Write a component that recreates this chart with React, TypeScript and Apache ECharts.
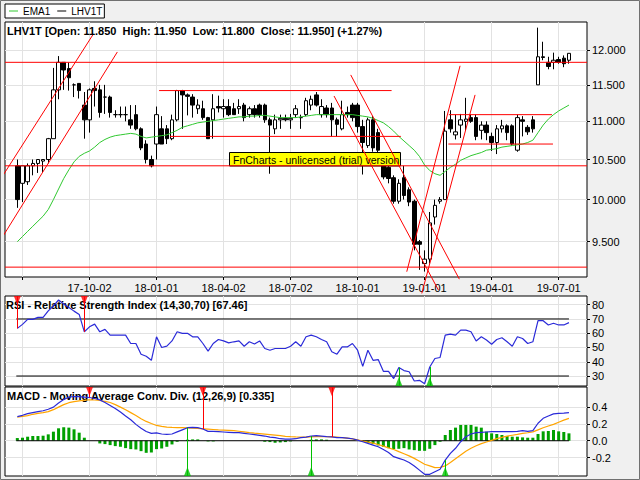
import React, { useEffect, useRef } from "react";
import * as echarts from "echarts";

const FONT = '"Liberation Sans", Arial, Helvetica, sans-serif';

// weekly bars numbered 0..107 (2017-06-26 .. 2019-07-15)
const xTickIdx = [1, 14, 27, 40, 53, 66, 79, 92, 105];
const xLabelIdx = [14, 27, 40, 53, 66, 79, 92, 105];
const xLabels = ["17-10-02", "18-01-01", "18-04-02", "18-07-02", "18-10-01", "19-01-01", "19-04-01", "19-07-01"];
const xMin = -2.39;
const xMax = 110.5;

const priceTicks = [9.5, 10, 10.5, 11, 11.5, 12];
const priceMin = 9.1;
const priceMax = 12.415;
const rsiTicks = [30, 40, 50, 60, 70, 80];
const rsiMin = 23;
const rsiMax = 86.1;
const macdTicks = [-0.2, 0, 0.2, 0.4];
const macdMin = -0.42;
const macdMax = 0.64;

const open = [
  10.42, 10.2, 10.22, 10.42, 10.45, 10.48, 10.5, 10.77, 11.43, 11.82,
  11.73, 11.5, 11.52, 11.22, 11.02, 11.45, 11.43, 11.33, 11.33, 11.09,
  11.09, 11.09, 11.02, 11.09, 10.9, 10.7, 10.5, 10.7, 10.9, 10.9,
  10.77, 11.02, 11.42, 11.36, 11.33, 11.17, 11.17, 11.05, 11.02, 11.2,
  11.17, 11.2, 11.17, 11.17, 11.22, 11.09, 11.17, 11.22, 11.22, 11.02,
  10.9, 11.02, 11.04, 11.02, 11.09, 11.05, 11.09, 11.22, 11.36, 11.09,
  11.18, 11.18, 11.02, 10.9, 11.12, 11.22, 11.22, 10.93, 10.68, 11.02,
  10.85, 10.42, 10.4, 10.27, 9.98, 10.27, 10.12, 9.98, 9.5, 9.25,
  9.3, 9.79, 9.98, 10.0, 11.02, 10.82, 10.95, 11.0, 11.05, 11.05,
  10.88, 10.95, 10.8, 10.72, 10.9, 10.94, 10.94, 10.62, 11.02, 10.92,
  11.02, 11.5, 11.9, 11.82, 11.82, 11.86, 11.88, 11.85,
];
const high = [
  10.5, 10.42, 10.45, 10.5, 10.5, 10.5, 10.78, 11.74, 11.91, 11.82,
  11.82, 11.52, 11.52, 11.4, 11.45, 11.55, 11.5, 11.5, 11.35, 11.15,
  11.2, 11.2, 11.22, 11.22, 10.92, 10.75, 10.55, 11.2, 11.07, 10.95,
  11.09, 11.43, 11.43, 11.38, 11.37, 11.3, 11.28, 11.06, 11.37, 11.35,
  11.3, 11.3, 11.25, 11.3, 11.25, 11.2, 11.22, 11.24, 11.24, 11.05,
  11.09, 11.09, 11.09, 11.1, 11.22, 11.09, 11.32, 11.35, 11.4, 11.3,
  11.22, 11.25, 11.05, 11.28, 11.2, 11.25, 11.25, 11.02, 11.05, 11.07,
  10.9, 10.55, 10.45, 10.3, 10.25, 10.42, 10.15, 10.0, 9.52, 9.4,
  9.85, 10.0, 10.03, 11.14, 11.15, 11.09, 11.1, 11.32, 11.09, 11.09,
  11.0, 11.0, 10.85, 10.95, 11.02, 10.96, 10.96, 11.09, 11.07, 10.95,
  11.07, 12.33, 12.12, 11.9, 11.96, 11.9, 11.92, 11.95,
];
const low = [
  9.9, 9.97, 10.18, 10.3, 10.33, 10.33, 10.45, 10.77, 11.3, 11.43,
  11.42, 11.33, 11.31, 10.77, 10.85, 11.2, 11.05, 11.1, 11.05, 11.05,
  11.05, 11.0, 10.9, 10.88, 10.62, 10.45, 10.4, 10.5, 10.7, 10.7,
  10.75, 11.0, 10.9, 11.08, 11.05, 11.1, 11.02, 10.77, 10.77, 11.12,
  11.05, 11.07, 11.09, 11.1, 11.0, 11.05, 11.05, 11.05, 10.98, 10.32,
  10.83, 10.9, 11.0, 10.9, 11.05, 10.9, 11.07, 11.15, 11.2, 11.05,
  11.05, 10.8, 10.8, 10.88, 11.05, 11.0, 10.85, 10.31, 10.65, 10.6,
  10.55, 10.25, 10.2, 9.95, 9.95, 10.0, 9.92, 9.4, 9.18, 9.16,
  9.25, 9.7, 9.95, 10.0, 10.85, 10.76, 10.78, 10.88, 10.98, 10.75,
  10.76, 10.75, 10.61, 10.57, 10.85, 10.75, 10.68, 10.6, 10.8, 10.82,
  10.85, 11.5, 11.85, 11.72, 11.72, 11.8, 11.75, 11.8,
];
const close = [
  10.0, 10.42, 10.42, 10.45, 10.5, 10.5, 10.77, 11.43, 11.82, 11.71,
  11.6, 11.5, 11.42, 11.02, 11.43, 11.42, 11.12, 11.33, 11.12, 11.09,
  11.09, 11.09, 10.95, 10.9, 10.65, 10.5, 10.42, 11.09, 10.7, 10.77,
  11.02, 11.42, 11.36, 11.34, 11.22, 11.22, 11.05, 10.77, 11.17, 11.18,
  11.2, 11.09, 11.09, 11.2, 11.05, 11.17, 11.09, 11.09, 11.02, 10.95,
  11.02, 11.04, 11.02, 11.04, 11.17, 11.05, 11.28, 11.3, 11.22, 11.2,
  11.09, 11.02, 10.96, 11.09, 11.09, 11.05, 10.93, 10.72, 11.02, 10.65,
  10.62, 10.28, 10.26, 9.98, 10.2, 10.05, 9.97, 9.47, 9.47, 9.3,
  9.72, 9.93, 10.0, 10.87, 10.9, 10.86, 11.02, 11.03, 11.0, 10.8,
  10.95, 10.85, 10.72, 10.9, 10.94, 10.85, 10.7, 11.05, 11.0, 10.86,
  10.9, 11.9, 11.89, 11.76, 11.85, 11.82, 11.8, 11.95,
];
const ema1 = [
  9.5, 9.56, 9.62, 9.68, 9.74, 9.8, 9.88, 10.0, 10.13, 10.26,
  10.37, 10.47, 10.54, 10.58, 10.61, 10.66, 10.72, 10.76, 10.79, 10.81,
  10.82, 10.83, 10.84, 10.83, 10.8, 10.78, 10.79, 10.8, 10.81, 10.82,
  10.85, 10.88, 10.92, 10.94, 10.96, 10.98, 10.99, 11.0, 11.01, 11.02,
  11.03, 11.04, 11.05, 11.06, 11.06, 11.07, 11.07, 11.08, 11.08, 11.07,
  11.06, 11.05, 11.05, 11.05, 11.05, 11.06, 11.07, 11.08, 11.09, 11.09,
  11.09, 11.09, 11.09, 11.09, 11.09, 11.09, 11.08, 11.07, 11.06, 11.04,
  11.01, 10.98, 10.93, 10.87, 10.8, 10.74, 10.68, 10.62, 10.54, 10.43,
  10.36, 10.32, 10.3, 10.35, 10.4, 10.44, 10.49, 10.52, 10.55, 10.57,
  10.59, 10.62, 10.63, 10.64, 10.66, 10.67, 10.68, 10.69, 10.7, 10.72,
  10.75, 10.85, 10.95, 11.03, 11.09, 11.14, 11.18, 11.22,
];
const rsi = [
  63.4, 66.2, 69.7, 69.7, 71.1, 71.1, 75.7, 79.1, 83.3, 80.5,
  78, 75.5, 73.2, 61, 64.5, 66.4, 61, 62.7, 58.7, 58.7,
  58.7, 58.7, 52.8, 52.8, 45.3, 43.9, 41, 57.5, 50, 51,
  54.6, 61, 59.9, 59.9, 57.5, 57.5, 52.8, 47.4, 52.8, 55.6,
  54.6, 53.2, 54, 54.6, 50.9, 54, 52.4, 54.6, 49.3, 48.1,
  49.3, 49.3, 49.3, 50.9, 54, 50.9, 57.5, 58.7, 57.5, 55.6,
  54, 47, 45.3, 50.4, 50.4, 52.8, 48.1, 36.8, 48.1, 41,
  41.5, 33.3, 33.3, 28.2, 35.9, 33.8, 33, 26.5, 27, 24.6,
  36.3, 42.3, 43, 58.7, 59.4, 58.7, 62.2, 62.2, 61, 54.6,
  57.5, 55.2, 52.3, 55.6, 56.8, 54, 50.9, 57.5, 56.3, 52.8,
  54, 68.8, 68.8, 65.8, 67, 65.8, 65.8, 67.46,
];
const macd = [
  0.287, 0.303, 0.323, 0.335, 0.347, 0.357, 0.375, 0.4, 0.45, 0.49,
  0.52, 0.527, 0.525, 0.52, 0.515, 0.503, 0.487, 0.455, 0.42, 0.385,
  0.343, 0.295, 0.25, 0.195, 0.15, 0.11, 0.088, 0.094, 0.08, 0.076,
  0.08, 0.105, 0.13, 0.155, 0.16, 0.157, 0.14, 0.112, 0.112, 0.108,
  0.104, 0.1, 0.096, 0.096, 0.088, 0.08, 0.072, 0.064, 0.056, 0.044,
  0.036, 0.024, 0.02, 0.02, 0.024, 0.036, 0.044, 0.056, 0.06, 0.056,
  0.048, 0.045, 0.036, 0.036, 0.032, 0.024, 0.008, -0.012, -0.032, -0.052,
  -0.072, -0.104, -0.14, -0.19, -0.21, -0.23, -0.26, -0.3, -0.35, -0.4,
  -0.4, -0.37, -0.34, -0.23, -0.15, -0.09, -0.012, 0.048, 0.08, 0.096,
  0.1, 0.104, 0.108, 0.108, 0.108, 0.108, 0.108, 0.112, 0.12, 0.112,
  0.12, 0.208, 0.267, 0.295, 0.32, 0.327, 0.33, 0.335,
];
const signal = [
  0.28, 0.29, 0.3, 0.315, 0.325, 0.335, 0.347, 0.37, 0.4, 0.43,
  0.453, 0.465, 0.475, 0.482, 0.487, 0.485, 0.479, 0.468, 0.455, 0.43,
  0.4, 0.37, 0.335, 0.3, 0.262, 0.23, 0.205, 0.182, 0.17, 0.162,
  0.158, 0.156, 0.155, 0.153, 0.15, 0.146, 0.142, 0.138, 0.134, 0.13,
  0.127, 0.124, 0.12, 0.113, 0.105, 0.097, 0.09, 0.084, 0.078, 0.072,
  0.066, 0.06, 0.053, 0.048, 0.045, 0.044, 0.044, 0.046, 0.048, 0.048,
  0.048, 0.047, 0.044, 0.038, 0.03, 0.022, 0.01, -0.004, -0.016, -0.028,
  -0.045, -0.065, -0.085, -0.104, -0.13, -0.155, -0.18, -0.21, -0.245, -0.28,
  -0.3, -0.32, -0.318, -0.3, -0.26, -0.215, -0.17, -0.125, -0.09, -0.06,
  -0.035, -0.015, 0.005, 0.025, 0.04, 0.055, 0.065, 0.075, 0.088, 0.095,
  0.105, 0.13, 0.155, 0.175, 0.195, 0.22, 0.245, 0.267,
];
const hist = [
  0.032, 0.036, 0.048, 0.056, 0.056, 0.06, 0.076, 0.108, 0.148, 0.16,
  0.156, 0.136, 0.096, 0.036, 0, 0, -0.032, -0.04, -0.052, -0.064,
  -0.072, -0.088, -0.1, -0.104, -0.124, -0.144, -0.14, -0.1, -0.092, -0.072,
  -0.044, -0.012, 0, 0.012, 0.016, 0.016, 0, -0.008, -0.008, 0,
  0, 0, 0, 0, 0, 0, 0, 0, -0.012, -0.016,
  -0.024, -0.02, -0.016, -0.008, 0, 0, 0, 0.012, 0.016, 0.016,
  0.012, 0, 0, 0, 0, 0, 0, -0.012, -0.024, -0.04,
  -0.056, -0.072, -0.088, -0.1, -0.096, -0.088, -0.104, -0.112, -0.12, -0.12,
  -0.096, -0.052, -0.012, 0.068, 0.128, 0.156, 0.188, 0.188, 0.188, 0.168,
  0.156, 0.108, 0.088, 0.08, 0.068, 0.056, 0.048, 0.048, 0.04, 0.036,
  0.036, 0.08, 0.112, 0.116, 0.128, 0.112, 0.104, 0.088,
];

// signal markers (bar index)
const rsiSellIdx = [0, 13];
const rsiBuyIdx = [74, 80];
const macdSellIdx = [14, 36, 61];
const macdBuyIdx = [33, 57, 83];

// horizontal support / resistance levels
const fullLevels = [11.82, 10.42, 9.21];
const shortLevels = [
  [27.5, 72.6, 11.42],
  [29.6, 74.4, 10.8],
  [83.7, 103.7, 11.09],
  [83.6, 103.9, 10.7],
];
// trend lines: [fromIdx, fromPrice, toIdx, toPrice]
const trendLines = [
  [-3.36, 10.24, 14.63, 12.22],
  [-3.03, 9.54, 19.4, 11.97],
  [64.67, 11.64, 85.74, 9.076],
  [61.43, 11.345, 81.67, 8.957],
  [75.54, 9.159, 85.88, 11.77],
  [78.45, 8.92, 88.79, 11.36],
];

const RED = "#ff0000";
const GREEN_LINE = "#30c830";
const BLUE = "#2a2ad8";
const GRID_LINE = "#e2e2e2";

function lineSeries(xi: number, yi: number, data: any[], color: string, width: number, extra: any = {}) {
  return {
    type: "line",
    xAxisIndex: xi,
    yAxisIndex: yi,
    data,
    symbol: "none",
    showSymbol: false,
    silent: true,
    lineStyle: { color, width },
    itemStyle: { color },
    ...extra,
  };
}

function markerSeries(xi: number, yi: number, idx: number[], values: number[], edge: number, up: boolean) {
  const color = up ? "#00c000" : RED;
  return {
    type: "scatter",
    xAxisIndex: xi,
    yAxisIndex: yi,
    silent: true,
    clip: false,
    symbol: "triangle",
    symbolRotate: up ? 0 : 180,
    symbolSize: [7, 9],
    symbolOffset: [0, up ? -4.5 : 4.5],
    itemStyle: { color },
    z: 5,
    data: idx.map((i) => [i, edge]),
    markLine: {
      silent: true,
      symbol: ["none", "none"],
      label: { show: false },
      lineStyle: { color, type: "solid", width: 1 },
      data: idx.map((i) => [{ coord: [i, edge] }, { coord: [i, values[i]] }]),
    },
  };
}

function buildOption() {
  const idx = open.map((_, i) => i);
  const n = open.length - 1;
  const pct = (close[n] / close[n - 1] - 1) * 100;
  const header =
    `LHV1T [Open: ${open[n].toFixed(3)}  High: ${high[n].toFixed(3)}  Low: ${low[n].toFixed(3)}  Close: ${close[n].toFixed(3)}] (${pct >= 0 ? "+" : ""}${pct.toFixed(2)}%)`;

  const labelStyle = { color: "#000", fontSize: 11, fontFamily: FONT };
  const gridBase = { left: 5, width: 582, show: true, backgroundColor: "#fff", borderColor: "#000", borderWidth: 1, containLabel: false, outerBoundsMode: "none" };

  const xAxis = [0, 1, 2].map((g) => ({
    type: "value",
    gridIndex: g,
    min: xMin,
    max: xMax,
    position: "bottom",
    axisLine: { show: false, onZero: false },
    axisTick: { show: g === 0, length: 3, customValues: xTickIdx, lineStyle: { color: "#000" } },
    axisLabel: {
      show: g === 0,
      customValues: xLabelIdx,
      margin: 5,
      ...labelStyle,
      formatter: (v: number) => {
        const k = xLabelIdx.indexOf(Math.round(v));
        return k >= 0 ? xLabels[k] : "";
      },
    },
    splitLine: { show: true, lineStyle: { color: GRID_LINE, width: 1 } },
  }));

  const yCommon = {
    position: "right",
    axisLine: { show: false, onZero: false },
    splitLine: { show: true, lineStyle: { color: GRID_LINE, width: 1 } },
  };
  const yAxis = [
    { type: "log", gridIndex: 0, min: priceMin, max: priceMax, show: false, logBase: 10, position: "left", axisLine: { show: false, onZero: false } },
    {
      ...yCommon,
      type: "value",
      gridIndex: 0,
      min: Math.log(priceMin),
      max: Math.log(priceMax),
      axisTick: { show: true, length: 3, customValues: priceTicks.map((p) => Math.log(p)), lineStyle: { color: "#000" } },
      axisLabel: { customValues: priceTicks.map((p) => Math.log(p)), margin: 5, ...labelStyle, formatter: (v: number) => Math.exp(v).toFixed(3) },
    },
    {
      ...yCommon,
      type: "value",
      gridIndex: 1,
      min: rsiMin,
      max: rsiMax,
      axisTick: { show: true, length: 3, customValues: rsiTicks, lineStyle: { color: "#000" } },
      axisLabel: { customValues: rsiTicks, margin: 5, ...labelStyle, formatter: (v: number) => String(Math.round(v)) },
    },
    {
      ...yCommon,
      type: "value",
      gridIndex: 2,
      min: macdMin,
      max: macdMax,
      axisTick: { show: true, length: 3, customValues: macdTicks, lineStyle: { color: "#000" } },
      axisLabel: { customValues: macdTicks, margin: 5, ...labelStyle, formatter: (v: number) => v.toFixed(1) },
    },
  ];

  const series: any[] = [
    {
      type: "candlestick",
      name: "LHV1T",
      xAxisIndex: 0,
      yAxisIndex: 0,
      silent: true,
      barWidth: 4,
      encode: { x: 0, y: [1, 2, 3, 4] },
      itemStyle: { color: "#ffffff", color0: "#000000", borderColor: "#000000", borderColor0: "#000000", borderWidth: 1 },
      data: idx.map((i) => [i, open[i], close[i], low[i], high[i]]),
    },
    lineSeries(0, 0, idx.map((i) => [i, ema1[i]]), GREEN_LINE, 1, { name: "EMA1" }),
    ...fullLevels.map((p) => lineSeries(0, 0, [[xMin, p], [xMax, p]], RED, 1, { z: 4 })),
    ...shortLevels.map((s) => lineSeries(0, 0, [[s[0], s[2]], [s[1], s[2]]], RED, 1, { z: 4 })),
    ...trendLines.map((t) => lineSeries(0, 0, [[t[0], t[1]], [t[2], t[3]]], RED, 1, { z: 4, clip: false })),

    // RSI panel
    lineSeries(1, 2, [[-0.2, 70], [n, 70]], "#000", 1),
    lineSeries(1, 2, [[-0.2, 30], [n, 30]], "#000", 1),
    lineSeries(1, 2, idx.map((i) => [i, rsi[i]]), BLUE, 1.2),
    markerSeries(1, 2, rsiSellIdx, rsi, rsiMax, false),
    markerSeries(1, 2, rsiBuyIdx, rsi, rsiMin, true),

    // MACD panel
    {
      type: "bar",
      xAxisIndex: 2,
      yAxisIndex: 3,
      silent: true,
      barWidth: 3,
      itemStyle: { color: "#00a000" },
      data: idx.map((i) => [i, hist[i]]),
    },
    lineSeries(2, 3, [[-0.2, 0], [n, 0]], "#000", 1),
    lineSeries(2, 3, idx.map((i) => [i, signal[i]]), "#ffa500", 1.2),
    lineSeries(2, 3, idx.map((i) => [i, macd[i]]), BLUE, 1.2),
    markerSeries(2, 3, macdSellIdx, macd, macdMax, false),
    markerSeries(2, 3, macdBuyIdx, macd, macdMin, true),
  ];

  const titleStyle = { fontSize: 11, fontWeight: "bold", color: "#000", fontFamily: FONT };

  return {
    animation: false,
    backgroundColor: "#f0f0f0",
    textStyle: { fontFamily: FONT },
    legend: {
      show: true,
      left: 5,
      top: 4,
      orient: "horizontal",
      itemWidth: 9,
      itemHeight: 1,
      itemGap: 7,
      padding: [2, 2, 2, 4],
      backgroundColor: "#fff",
      borderColor: "#000",
      borderWidth: 1,
      borderRadius: 0,
      selectedMode: false,
      textStyle: { fontSize: 10, color: "#000", fontFamily: FONT },
      data: [
        { name: "EMA1", icon: "rect", itemStyle: { color: GREEN_LINE, borderWidth: 0 } },
        { name: "LHV1T", icon: "rect", itemStyle: { color: "#000", borderWidth: 0 } },
      ],
    },
    title: [
      { text: header, left: 7, top: 25.5, padding: 0, z: 1, textStyle: titleStyle },
      { text: `RSI - Relative Strength Index (14,30,70) [${rsi[n].toFixed(2)}]`, left: 6, top: 299, padding: 0, z: 1, textStyle: titleStyle },
      { text: `MACD - Moving Average Conv. Div. (12,26,9) [${macd[n].toFixed(3)}]`, left: 7, top: 390, padding: 0, z: 1, textStyle: titleStyle },
    ],
    grid: [
      { ...gridBase, top: 22, height: 255 },
      { ...gridBase, top: 296, height: 90 },
      { ...gridBase, top: 387, height: 89 },
    ],
    xAxis,
    yAxis,
    series,
    graphic: [
      {
        type: "rect",
        z: 3,
        silent: true,
        shape: { x: 229.5, y: 152.5, width: 171, height: 13.5 },
        style: { fill: "#ffff00", stroke: "#000", lineWidth: 1 },
      },
      {
        type: "text",
        z: 3,
        silent: true,
        x: 233,
        y: 159.5,
        style: { text: "FnCharts - unlicensed (trial) version", fill: "#000", font: `10.5px ${FONT}`, verticalAlign: "middle", align: "left" },
      },
      {
        type: "rect",
        z: 10,
        silent: true,
        shape: { x: 0.5, y: 0.5, width: 639, height: 479 },
        style: { fill: "none", stroke: "#707070", lineWidth: 1 },
      },
    ],
  };
}

export default function App() {
  const ref = useRef<HTMLDivElement>(null);
  useEffect(() => {
    document.body.style.margin = "0";
    const chart = echarts.init(ref.current as HTMLDivElement, null, { renderer: "svg" });
    chart.setOption(buildOption() as any);
    return () => chart.dispose();
  }, []);
  return <div ref={ref} style={{ position: "absolute", left: 0, top: 0, width: 640, height: 480 }} />;
}
